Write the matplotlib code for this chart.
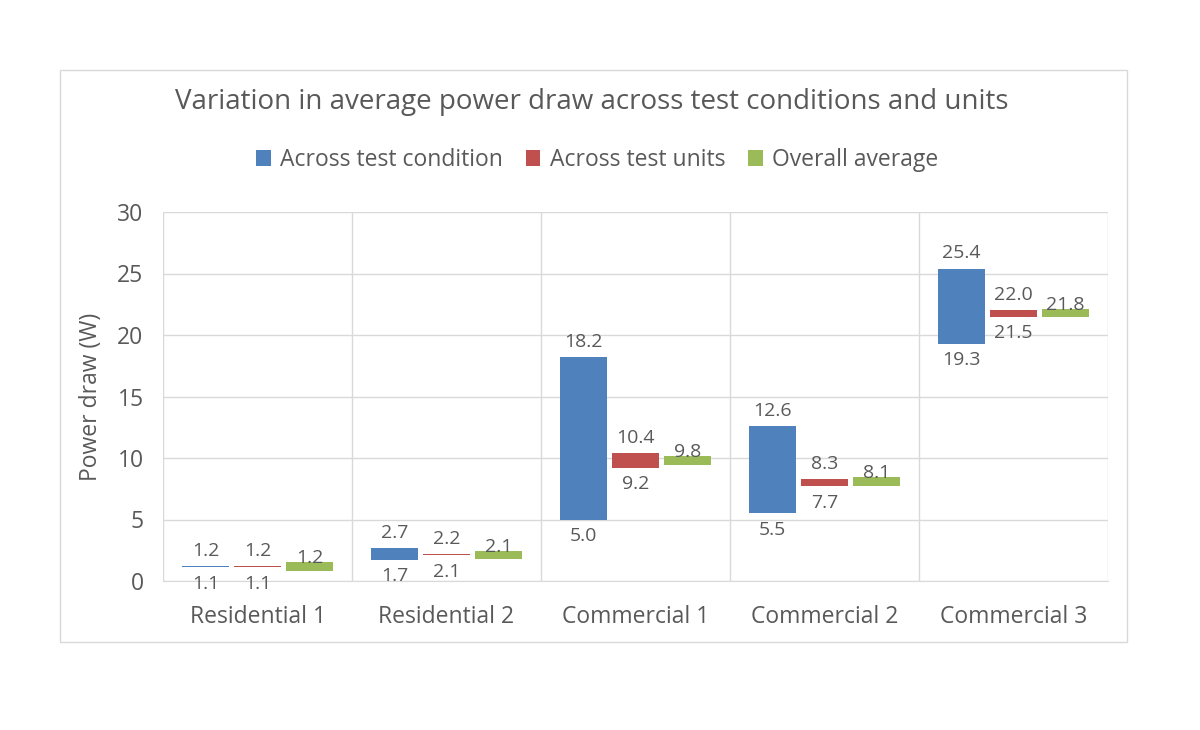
import numpy as np
import matplotlib.pyplot as plt
from matplotlib.patches import Rectangle

plt.rcParams['font.family'] = ['Open Sans', 'DejaVu Sans']

# data
units = ['Residential 1', 'Residential 2', 'Commercial 1', 'Commercial 2', 'Commercial 3']
cond_low = [1.1, 1.7, 5.0, 5.5, 19.3]
cond_high = [1.2, 2.7, 18.2, 12.6, 25.4]
unit_low = [1.1, 2.1, 9.2, 7.7, 21.5]
unit_high = [1.2, 2.2, 10.4, 8.3, 22.0]
overall = [1.2, 2.1, 9.8, 8.1, 21.8]

blue = '#4F81BD'
red = '#C0504D'
green = '#9BBB59'
txt = '#595959'
grid = '#D9D9D9'

fig = plt.figure(figsize=(12, 7.3), dpi=100)
# outer chart frame
fig.patches.append(Rectangle((60 / 1200, 1 - 642 / 730), 1067 / 1200, 572 / 730,
                             transform=fig.transFigure, fill=False,
                             edgecolor='#D9D9D9', linewidth=1))

ax = fig.add_axes([163 / 1200, 1 - 581 / 730, 945 / 1200, 369 / 730])
x = np.arange(len(units))
w = 0.245
off = 0.275

cond_low = np.array(cond_low)
cond_high = np.array(cond_high)
unit_low = np.array(unit_low)
unit_high = np.array(unit_high)
overall = np.array(overall)

ax.bar(x - off, cond_high - cond_low, w, bottom=cond_low, color=blue, label='Across test condition', zorder=3)
ax.bar(x, unit_high - unit_low, w, bottom=unit_low, color=red, label='Across test units', zorder=3)
ax.bar(x + off, 0.7, w, bottom=overall - 0.35, color=green, label='Overall average', zorder=3)

fs = 14
for i in range(len(units)):
    ax.text(x[i] - off, cond_high[i] + 0.5, f'{cond_high[i]:.1f}', ha='center', va='bottom', fontsize=fs, color=txt, zorder=4)
    ax.text(x[i] - off, cond_low[i] - 0.6, f'{cond_low[i]:.1f}', ha='center', va='top', fontsize=fs, color=txt, zorder=4)
    ax.text(x[i], unit_high[i] + 0.5, f'{unit_high[i]:.1f}', ha='center', va='bottom', fontsize=fs, color=txt, zorder=4)
    ax.text(x[i], unit_low[i] - 0.6, f'{unit_low[i]:.1f}', ha='center', va='top', fontsize=fs, color=txt, zorder=4)
    ax.text(x[i] + off, overall[i] + 0.25, f'{overall[i]:.1f}', ha='center', va='baseline', fontsize=fs, color=txt, zorder=4)

ax.set_xlim(-0.5, len(units) - 0.5)
ax.set_ylim(0, 30)
ax.set_yticks(range(0, 31, 5))
ax.set_xticks(x)
ax.set_xticklabels(units)
ax.set_xticks(np.arange(-0.5, len(units), 1), minor=True)
ax.grid(axis='y', color=grid, linewidth=1, zorder=0)
ax.grid(axis='x', which='minor', color=grid, linewidth=1, zorder=0)
ax.tick_params(axis='x', which='both', length=0, labelsize=16.5, labelcolor=txt, pad=17)
ax.tick_params(axis='y', length=0, labelsize=16.5, labelcolor=txt, pad=14)
for s in ['top', 'right', 'left']:
    ax.spines[s].set_visible(False)
ax.spines['bottom'].set_color(grid)
ax.set_ylabel('Power draw (W)', fontsize=16.5, color=txt, labelpad=10)

fig.text(592 / 1200, 1 - 102 / 730, 'Variation in average power draw across test conditions and units',
         ha='center', va='center', fontsize=20, color=txt)
fig.legend(loc='center', bbox_to_anchor=(597 / 1200, 1 - 160 / 730), ncol=3, frameon=False,
           fontsize=16.5, labelcolor=txt, handlelength=0.65, handleheight=0.65, handletextpad=0.4,
           columnspacing=1.0)

fig.savefig('out.png', dpi=100, facecolor='white')
